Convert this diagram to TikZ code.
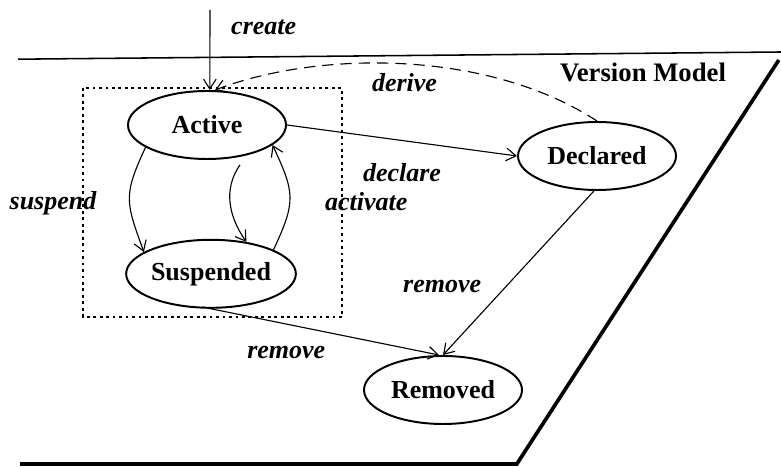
\documentclass[tikz,border=0pt]{standalone}
\usepackage{fontspec}
\setmainfont{Liberation Serif}
\usetikzlibrary{positioning,arrows.meta,shapes.geometric}

\tikzset{
	state/.style={draw, ellipse, line width=1.4pt, minimum width=3.95cm, minimum height=1.7cm, inner sep=0pt, font=\fontsize{18.5}{20}\selectfont\bfseries},
	lbl/.style={font=\fontsize{18.5}{20}\selectfont\bfseries\itshape},
	trans/.style={->, line width=0.8pt}
}

\begin{document}
\begin{tikzpicture}[node distance=3.72cm, auto, >={Straight Barb[length=7pt,width=9pt]}]
	\useasboundingbox (0,0) rectangle (19.525,11.7);
	% frame of the version model
	\coordinate (TL) at (0.45,10.22);
	\coordinate (TR) at (19.525,10.4);
	\coordinate (RT) at (19.47,10.2);
	\coordinate (RB) at (12.92,0.1);
	\coordinate (BL) at (0.5,0.1);
	\draw[line width=1.1pt] (TL) -- (TR);
	\draw[line width=2.6pt, line join=miter] (RT) -- (RB) -- (BL);
	\node[font=\fontsize{19}{20}\selectfont\bfseries] (VM) at (16.075,9.9) {Version Model};
	% states
	\node[state] (Active) at (5.175,8.575) {Active};
	\node[state] (Suspended) [below of=Active, xshift=0.1cm] {Suspended};
	\node[state] (Declared) at (14.925,7.8) {Declared};
	\node[state] (Removed) at (11.075,1.95) {Removed};
	\draw[line width=1pt, dash pattern=on 2pt off 2.6pt] (2.075,9.5) rectangle (8.55,3.775);
	% transitions
	\coordinate (Start) at (5.25,11.45);
	\draw[trans] (Start) to node[lbl, pos=0.22, right=0.4cm] {create} ([xshift=0.07cm]Active.north);
	\draw[trans, dash pattern=on 8pt off 5pt] (Declared.north) .. controls (12.2,10.45) and (8,10.45) .. ([xshift=0.2cm]Active.north)
		node[lbl, pos=0.5, below=0.12cm] {derive};
	\draw[trans] (Active.east) to node[lbl, below=0.45cm] {declare} (Declared.west);
	\draw[trans] (Active.200) to[out=245, in=110, looseness=1.3] node[lbl, pos=0.55, left=0.7cm] {suspend} (Suspended.162);
	\draw[trans] ([yshift=-0.2cm]Active.316) to[out=235, in=125] (Suspended.42);
	\draw[trans] (Suspended.21) to[out=65, in=295, looseness=1.3] node[lbl, pos=0.45, right=0.75cm] {activate} (Active.343);
	\draw[trans] (Declared.265) to node[lbl, pos=0.58, left=0.5cm] {remove} (Removed.north);
	\draw[trans, shorten <=-0.22cm] (Suspended.south) to node[lbl, pos=0.33, below=0.42cm] {remove} ([xshift=-0.1cm]Removed.north);
\end{tikzpicture}
\end{document}
